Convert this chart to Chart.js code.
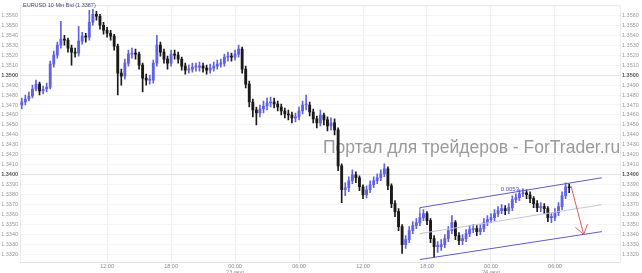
<!DOCTYPE html>
<html><head><meta charset="utf-8">
<script src="https://cdn.jsdelivr.net/npm/chart.js@4.4.1/dist/chart.umd.min.js"></script>
<style>html,body{margin:0;padding:0;background:#fff;overflow:hidden}canvas{display:block}</style>
</head><body>
<canvas id="c" width="642" height="273"></canvas>
<script>
// ---- data (20-minute candles, first bar 04:00) ----
const title = 'EURUSD 10 Min Bid (1.3387)';
const watermark = 'Портал для трейдеров - ForTrader.ru';
const timeTickIdx = [24, 42, 60, 78, 96, 114, 132, 150];
const timeTickLabels = [['12:00'], ['18:00'], ['00:00', '23 июл'], ['06:00'], ['12:00'], ['18:00'], ['00:00', '24 июл'], ['06:00']];
const yTicks = [1.3320,1.3330,1.3340,1.3350,1.3360,1.3370,1.3380,1.3390,1.3400,1.3410,1.3420,1.3430,1.3440,
  1.3450,1.3460,1.3470,1.3480,1.3490,1.3500,1.3510,1.3520,1.3530,1.3540,1.3550,1.3560];
const boldTicks = [1.3400, 1.3500];

const opens = [1.3470,1.3473,1.3476,1.3479,1.3486,1.3491,1.3484,1.3486,1.3488,1.3511,
1.3520,1.3530,1.3536,1.3535,1.3527,1.3523,1.3522,1.3534,1.3539,1.3538,
1.3553,1.3561,1.3559,1.3550,1.3545,1.3542,1.3539,1.3529,1.3502,1.3499,
1.3512,1.3521,1.3522,1.3521,1.3510,1.3497,1.3495,1.3495,1.3512,1.3530,
1.3523,1.3516,1.3512,1.3521,1.3520,1.3516,1.3509,1.3505,1.3506,1.3508,
1.3508,1.3509,1.3507,1.3505,1.3507,1.3509,1.3511,1.3512,1.3518,1.3519,
1.3518,1.3521,1.3526,1.3506,1.3491,1.3473,1.3465,1.3462,1.3466,1.3469,
1.3472,1.3473,1.3471,1.3468,1.3464,1.3461,1.3460,1.3457,1.3458,1.3464,
1.3470,1.3470,1.3463,1.3456,1.3452,1.3460,1.3455,1.3449,1.3452,1.3445,
1.3409,1.3385,1.3387,1.3394,1.3400,1.3397,1.3388,1.3380,1.3385,1.3390,
1.3394,1.3397,1.3401,1.3406,1.3389,1.3371,1.3363,1.3348,1.3330,1.3335,
1.3344,1.3349,1.3352,1.3357,1.3361,1.3354,1.3336,1.3328,1.3328,1.3330,
1.3336,1.3344,1.3352,1.3339,1.3334,1.3336,1.3341,1.3345,1.3346,1.3343,
1.3346,1.3352,1.3355,1.3357,1.3361,1.3364,1.3366,1.3364,1.3367,1.3375,
1.3377,1.3381,1.3382,1.3380,1.3376,1.3371,1.3367,1.3368,1.3366,1.3357,
1.3357,1.3362,1.3368,1.3379,1.3388];
const closes = [1.3473,1.3476,1.3479,1.3486,1.3491,1.3484,1.3486,1.3488,1.3511,1.3520,
1.3530,1.3536,1.3535,1.3527,1.3523,1.3522,1.3534,1.3539,1.3538,1.3553,
1.3561,1.3559,1.3550,1.3545,1.3542,1.3539,1.3529,1.3502,1.3499,1.3512,
1.3521,1.3522,1.3521,1.3510,1.3497,1.3495,1.3495,1.3512,1.3530,1.3523,
1.3516,1.3512,1.3521,1.3520,1.3516,1.3509,1.3505,1.3506,1.3508,1.3508,
1.3509,1.3507,1.3505,1.3507,1.3509,1.3511,1.3512,1.3518,1.3519,1.3518,
1.3521,1.3526,1.3506,1.3491,1.3473,1.3465,1.3462,1.3466,1.3469,1.3472,
1.3473,1.3471,1.3468,1.3464,1.3461,1.3460,1.3457,1.3458,1.3464,1.3470,
1.3470,1.3463,1.3456,1.3452,1.3460,1.3455,1.3449,1.3452,1.3445,1.3409,
1.3385,1.3387,1.3394,1.3400,1.3397,1.3388,1.3380,1.3385,1.3390,1.3394,
1.3397,1.3401,1.3406,1.3389,1.3371,1.3363,1.3348,1.3330,1.3335,1.3344,
1.3349,1.3352,1.3357,1.3361,1.3354,1.3336,1.3328,1.3328,1.3330,1.3336,
1.3344,1.3352,1.3339,1.3334,1.3336,1.3341,1.3345,1.3346,1.3343,1.3346,
1.3352,1.3355,1.3357,1.3361,1.3364,1.3366,1.3364,1.3367,1.3375,1.3377,
1.3381,1.3382,1.3380,1.3376,1.3371,1.3367,1.3368,1.3366,1.3357,1.3357,
1.3362,1.3368,1.3379,1.3388,1.3387];
const highs = [1.3477,1.3480,1.3483,1.3490,1.3495,1.3493,1.3489,1.3492,1.3514,1.3524,
1.3533,1.3554,1.3540,1.3537,1.3530,1.3527,1.3549,1.3543,1.3542,1.3565,
1.3566,1.3564,1.3561,1.3553,1.3548,1.3545,1.3541,1.3531,1.3506,1.3516,
1.3525,1.3527,1.3526,1.3523,1.3512,1.3501,1.3500,1.3515,1.3540,1.3533,
1.3526,1.3519,1.3525,1.3525,1.3523,1.3518,1.3512,1.3510,1.3512,1.3512,
1.3513,1.3512,1.3510,1.3511,1.3513,1.3515,1.3516,1.3521,1.3523,1.3522,
1.3525,1.3530,1.3528,1.3509,1.3494,1.3476,1.3468,1.3470,1.3474,1.3477,
1.3478,1.3477,1.3474,1.3471,1.3467,1.3465,1.3463,1.3462,1.3468,1.3474,
1.3480,1.3473,1.3466,1.3459,1.3465,1.3462,1.3458,1.3457,1.3456,1.3447,
1.3411,1.3392,1.3398,1.3405,1.3403,1.3399,1.3390,1.3389,1.3394,1.3398,
1.3401,1.3405,1.3411,1.3408,1.3391,1.3374,1.3366,1.3350,1.3339,1.3348,
1.3353,1.3356,1.3361,1.3365,1.3363,1.3356,1.3339,1.3333,1.3335,1.3340,
1.3348,1.3359,1.3354,1.3342,1.3340,1.3345,1.3349,1.3350,1.3349,1.3350,
1.3356,1.3359,1.3361,1.3365,1.3368,1.3370,1.3369,1.3371,1.3379,1.3381,
1.3385,1.3386,1.3385,1.3383,1.3378,1.3374,1.3372,1.3371,1.3368,1.3361,
1.3366,1.3372,1.3383,1.3392,1.3391];
const lows = [1.3466,1.3470,1.3474,1.3477,1.3484,1.3480,1.3481,1.3483,1.3486,1.3508,
1.3517,1.3527,1.3530,1.3523,1.3510,1.3518,1.3519,1.3531,1.3533,1.3535,
1.3550,1.3555,1.3546,1.3541,1.3538,1.3535,1.3525,1.3480,1.3490,1.3496,
1.3509,1.3517,1.3516,1.3506,1.3483,1.3490,1.3491,1.3492,1.3509,1.3519,
1.3512,1.3506,1.3509,1.3516,1.3512,1.3505,1.3501,1.3502,1.3503,1.3504,
1.3504,1.3503,1.3501,1.3502,1.3504,1.3506,1.3508,1.3509,1.3514,1.3514,
1.3515,1.3518,1.3502,1.3487,1.3468,1.3458,1.3450,1.3458,1.3462,1.3465,
1.3468,1.3467,1.3464,1.3460,1.3457,1.3455,1.3452,1.3453,1.3455,1.3461,
1.3465,1.3459,1.3452,1.3447,1.3449,1.3450,1.3444,1.3445,1.3440,1.3404,
1.3372,1.3379,1.3383,1.3391,1.3392,1.3384,1.3376,1.3377,1.3382,1.3387,
1.3391,1.3394,1.3398,1.3385,1.3367,1.3358,1.3344,1.3321,1.3326,1.3332,
1.3341,1.3346,1.3349,1.3354,1.3350,1.3332,1.3317,1.3322,1.3324,1.3327,
1.3333,1.3341,1.3335,1.3330,1.3330,1.3333,1.3338,1.3342,1.3339,1.3340,
1.3343,1.3349,1.3352,1.3354,1.3358,1.3361,1.3360,1.3361,1.3364,1.3372,
1.3374,1.3378,1.3376,1.3372,1.3367,1.3363,1.3363,1.3361,1.3353,1.3352,
1.3354,1.3359,1.3365,1.3376,1.3382];

// channel drawn on the chart (bar index, price)
const channelX = [112, 163.2];
const channelUpper = [1.3367, 1.3397];
const channelMid = [1.3341, 1.3370];
const channelLower = [1.3315, 1.3343];
const channelStartTick = 1.3360;
const channelLabel = '0.0053';
const channelLabelX = 137.3;
const arrowX = [154.5, 158.1];
const arrowY = [1.3389, 1.3340];

// ---- build ----
const upColor = '#6262e4', downColor = '#1a1a1a';
const idx = closes.map((_, i) => i);
const colors = idx.map(i => closes[i] >= opens[i] ? upColor : downColor);
const wickData = idx.map(i => ({x: i, y: [lows[i], highs[i]]}));
const bodyData = idx.map(i => ({x: i, y: [Math.min(opens[i], closes[i]), Math.max(opens[i], closes[i])]}));
const FONT = 'Liberation Sans';
const isBold = v => v !== undefined && boldTicks.some(b => Math.abs(b - v) < 1e-7);
const tickVal = c => (c && c.tick) ? c.tick.value : undefined;

const overlay = {
  id: 'overlay',
  beforeDatasetsDraw(chart) {
    const {ctx, chartArea: a} = chart;
    ctx.save();
    ctx.strokeStyle = '#e6e6e6';
    ctx.lineWidth = 1;
    ctx.beginPath(); ctx.moveTo(a.left, a.top + 0.5); ctx.lineTo(a.right, a.top + 0.5); ctx.stroke();
    ctx.font = '17.5px "' + FONT + '"';
    ctx.fillStyle = 'rgba(130,130,130,0.8)';
    ctx.textBaseline = 'alphabetic';
    ctx.textAlign = 'left';
    ctx.fillText(watermark, 323, 153);
    ctx.restore();
  },
  afterDatasetsDraw(chart) {
    const {ctx} = chart;
    const xs = chart.scales.x, ys = chart.scales.y;
    const px = v => xs.getPixelForValue(v), py = v => ys.getPixelForValue(v);
    ctx.save();
    ctx.lineWidth = 1;
    const line = (x0, y0, x1, y1, c) => { ctx.strokeStyle = c; ctx.beginPath(); ctx.moveTo(x0, y0); ctx.lineTo(x1, y1); ctx.stroke(); };
    line(px(channelX[0]), py(channelMid[0]), px(channelX[1]), py(channelMid[1]), '#c4c4dc');
    line(px(channelX[0]), py(channelUpper[0]), px(channelX[1]), py(channelUpper[1]), '#5c5cc8');
    line(px(channelX[0]), py(channelLower[0]), px(channelX[1]), py(channelLower[1]), '#5c5cc8');
    line(px(channelX[0]), py(channelUpper[0]), px(channelX[0]), py(channelStartTick), '#5c5cc8');
    const t = (channelLabelX - channelX[0]) / (channelX[1] - channelX[0]);
    const ly = py(channelUpper[0] + t * (channelUpper[1] - channelUpper[0]));
    ctx.font = '6px "' + FONT + '"';
    ctx.fillStyle = '#5050c0';
    ctx.textAlign = 'center';
    ctx.textBaseline = 'bottom';
    ctx.fillText(channelLabel, px(channelLabelX), ly - 1);
    const ax0 = px(arrowX[0]), ay0 = py(arrowY[0]), ax1 = px(arrowX[1]), ay1 = py(arrowY[1]);
    const red = '#e25a5a';
    line(ax0, ay0, ax1, ay1, red);
    const ang = Math.atan2(ay1 - ay0, ax1 - ax0) + Math.PI;
    const L = 11, da = 0.6;
    line(ax1, ay1, ax1 + L * Math.cos(ang - da), ay1 + L * Math.sin(ang - da), red);
    line(ax1, ay1, ax1 + L * Math.cos(ang + da), ay1 + L * Math.sin(ang + da), red);
    ctx.font = '5.5px "' + FONT + '"';
    ctx.fillStyle = '#45457a';
    ctx.textAlign = 'left';
    ctx.textBaseline = 'middle';
    ctx.fillText(title, 23, 5);
    ctx.restore();
  }
};

const yTickOpts = {
  callback: v => v.toFixed(4), padding: 2, autoSkip: false,
  font: c => ({size: 5.5, family: FONT, weight: isBold(tickVal(c)) ? 'bold' : 'normal'}),
  color: c => isBold(tickVal(c)) ? '#555' : '#999'
};

new Chart(document.getElementById('c'), {
  type: 'bar',
  data: { datasets: [
    {data: wickData, backgroundColor: colors, barThickness: 1, grouped: false, order: 2},
    {data: bodyData, backgroundColor: colors, barThickness: 2.2, minBarLength: 1, grouped: false, order: 1}
  ]},
  options: {
    responsive: false, animation: false, devicePixelRatio: 1,
    layout: {padding: {top: 2, left: 0, right: 0, bottom: 0}},
    plugins: {legend: {display: false}, tooltip: {enabled: false}, title: {display: false}},
    scales: {
      x: {
        type: 'linear', min: -0.5, max: 168.3, offset: false,
        afterBuildTicks: s => { s.ticks = timeTickIdx.map(v => ({value: v})); },
        afterFit: s => { s.height = 11; },
        ticks: {callback: (v, i) => timeTickLabels[i], font: {size: 5.5, family: FONT}, color: '#8a8a8a', padding: 1, maxRotation: 0, autoSkip: false},
        grid: {color: '#efefef', drawTicks: false, offset: false},
        border: {color: '#e2e2e2'}
      },
      y: {
        position: 'left', min: 1.33125, max: 1.3570,
        afterBuildTicks: s => { s.ticks = yTicks.map(v => ({value: v})); },
        afterFit: s => { s.width = 20; },
        ticks: yTickOpts,
        grid: {color: c => isBold(tickVal(c)) ? '#e4e4e4' : '#f5f5f5', drawTicks: false},
        border: {color: '#ececec'}
      },
      y2: {
        position: 'right', min: 1.33125, max: 1.3570,
        afterBuildTicks: s => { s.ticks = yTicks.map(v => ({value: v})); },
        afterFit: s => { s.width = 22; },
        ticks: yTickOpts,
        grid: {display: false, drawTicks: false},
        border: {color: '#ececec'}
      }
    }
  },
  plugins: [overlay]
});
</script>
</body></html>
